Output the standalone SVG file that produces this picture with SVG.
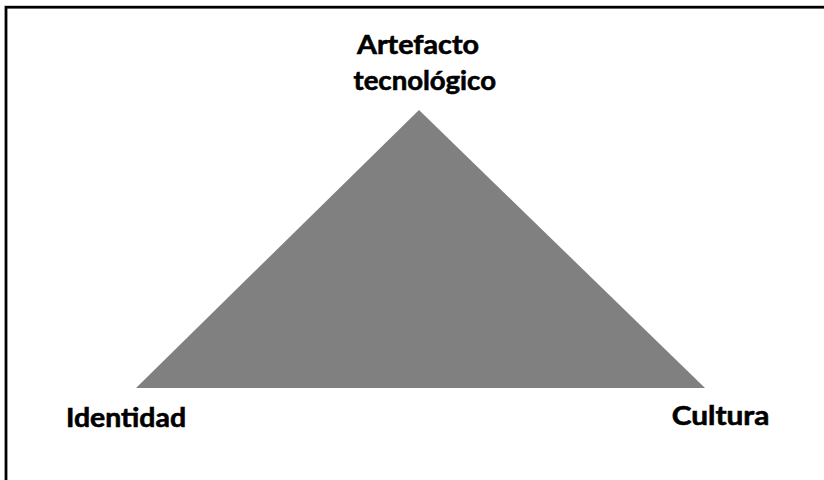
<svg xmlns="http://www.w3.org/2000/svg" width="824" height="480" viewBox="0 0 824 480">
<style>
.lbl{font-family:"Lato","Open Sans","Liberation Sans",sans-serif;font-weight:bold;font-size:26.5px;fill:#000;stroke:#000;stroke-width:0.6px}
</style>
<rect x="0" y="0" width="824" height="480" fill="#fff"/>
<rect x="6" y="7.2" width="830" height="490" fill="none" stroke="#000" stroke-width="2.8"/>
<g id="triangle">
<polygon points="419,110 705,388 136,388" fill="#808080"/>
</g>
<g id="artefacto">
<text class="lbl" x="357" y="54" textLength="122" lengthAdjust="spacingAndGlyphs">Artefacto</text>
<text class="lbl" x="353.5" y="90" textLength="142.5" lengthAdjust="spacingAndGlyphs">tecnológico</text>
</g>
<g id="identidad">
<text class="lbl" x="66" y="426.7" textLength="120" lengthAdjust="spacingAndGlyphs">Identidad</text>
</g>
<g id="cultura">
<text class="lbl" x="671.7" y="425" textLength="97.6" lengthAdjust="spacingAndGlyphs">Cultura</text>
</g>
</svg>
